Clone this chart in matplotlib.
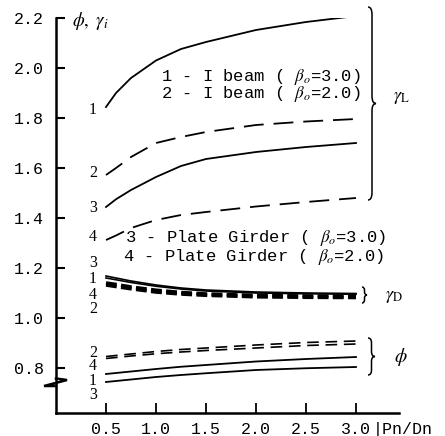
import matplotlib
matplotlib.use("Agg")
import matplotlib.pyplot as plt
from matplotlib.path import Path
from matplotlib.patches import PathPatch

plt.rcParams['mathtext.fontset'] = 'stix'

# ---- data ----
x = [0.5, 0.6, 0.75, 1.0, 1.25, 1.5, 2.0, 2.5, 3.0]

gL1 = [1.844, 1.900, 1.960, 2.030, 2.076, 2.104, 2.152, 2.184, 2.208]
gL2 = [1.572, 1.600, 1.644, 1.700, 1.724, 1.744, 1.772, 1.786, 1.796]
gL3 = [1.444, 1.475, 1.512, 1.564, 1.608, 1.636, 1.664, 1.684, 1.700]
gL4 = [1.312, 1.330, 1.360, 1.392, 1.412, 1.424, 1.446, 1.464, 1.480]

gD3 = [1.168, 1.160, 1.148, 1.132, 1.120, 1.112, 1.104, 1.100, 1.098]
gD1 = [1.160, 1.153, 1.142, 1.127, 1.116, 1.108, 1.100, 1.097, 1.095]
gD4 = [1.140, 1.134, 1.124, 1.111, 1.102, 1.096, 1.090, 1.088, 1.087]
gD2 = [1.132, 1.126, 1.117, 1.104, 1.096, 1.091, 1.085, 1.083, 1.082]

phi2 = [0.846, 0.850, 0.856, 0.866, 0.874, 0.880, 0.892, 0.902, 0.908]
phi4 = [0.838, 0.842, 0.848, 0.857, 0.864, 0.870, 0.880, 0.890, 0.896]
phi1 = [0.776, 0.780, 0.786, 0.796, 0.805, 0.812, 0.826, 0.836, 0.844]
phi3 = [0.744, 0.748, 0.754, 0.764, 0.772, 0.779, 0.792, 0.799, 0.804]

xticks = [0.5, 1.0, 1.5, 2.0, 2.5, 3.0]
xticklabels = ['0.5', '1.0', '1.5', '2.0', '2.5', '3.0']
yticks = [0.8, 1.0, 1.2, 1.4, 1.6, 1.8, 2.0, 2.2]
yticklabels = ['0.8', '1.0', '1.2', '1.4', '1.6', '1.8', '2.0', '2.2']

legend_lines = [r'1 - I beam ( $\beta_o$=3.0)', r'2 - I beam ( $\beta_o$=2.0)',
                r'3 - Plate Girder ( $\beta_o$=3.0)', r'4 - Plate Girder ( $\beta_o$=2.0)']

# curve labels at left: (text, y)
gL_labels = [('1', 1.832), ('2', 1.58), ('3', 1.44), ('4', 1.324)]
gD_labels = [('3', 1.22), ('1', 1.158), ('4', 1.094), ('2', 1.036)]
phi_labels = [('2', 0.862), ('4', 0.81), ('1', 0.748), ('3', 0.694)]

MONO = 'Liberation Mono'
SERIF = 'Liberation Serif'

fig = plt.figure(figsize=(4.45, 4.36), dpi=100)
ax = fig.add_axes([56/445, 23/436, (399-56)/445, (413-18)/436])
ax.set_xlim(0, 3.43)
ax.set_ylim(0.62, 2.2)

for s in ['top', 'right']:
    ax.spines[s].set_visible(False)
for s in ['left', 'bottom']:
    ax.spines[s].set_linewidth(1.8)

ax.set_xticks(xticks)
ax.set_xticklabels(xticklabels, fontfamily=MONO, fontsize=12)
ax.set_yticks(yticks)
ax.set_yticklabels(yticklabels, fontfamily=MONO, fontsize=12)
ax.tick_params(axis='y', direction='in', length=6.5, width=1.5, pad=8.5)
ax.tick_params(axis='x', direction='in', length=7, width=1.3, pad=6.5)

k = 'black'
lw = 1.3
# gamma L
ax.plot(x, gL1, color=k, lw=lw)
ax.plot(x, gL2, color=k, lw=lw, dashes=(11, 5.5))
ax.plot(x, gL3, color=k, lw=lw)
ax.plot(x, gL4, color=k, lw=lw, dashes=(11, 5.5))
# gamma D
ax.plot(x, gD3, color=k, lw=1.2)
ax.plot(x, gD1, color=k, lw=1.2)
ax.plot(x, gD4, color=k, lw=2.6, dashes=(3, 1.2))
ax.plot(x, gD2, color=k, lw=2.6, dashes=(3, 1.2))
# phi
ax.plot(x, phi2, color=k, lw=1.2, dashes=(7, 4))
ax.plot(x, phi4, color=k, lw=1.2, dashes=(7, 4))
ax.plot(x, phi1, color=k, lw=1.3)
ax.plot(x, phi3, color=k, lw=1.3)

# curve labels
for grp in (gL_labels, gD_labels, phi_labels):
    for t, yv in grp:
        ax.text(0.37, yv, t, fontfamily=SERIF, fontsize=11.5, ha='center', va='center')

# legend texts
ax.text(1.05, 1.964, legend_lines[0], fontfamily=MONO, fontsize=12.3, va='center')
ax.text(1.05, 1.896, legend_lines[1], fontfamily=MONO, fontsize=12.3, va='center')
ax.text(0.69, 1.320, legend_lines[2], fontfamily=MONO, fontsize=12.3, va='center')
ax.text(0.67, 1.246, legend_lines[3], fontfamily=MONO, fontsize=12.3, va='center')

# axis title
ax.text(0.16, 2.19, r'$\phi,\ \gamma_i$', fontsize=13.5, va='center', ha='left')
xt_label = ax.get_xticklabels()[-1]
ax.annotate('|Pn/Dn', xy=(1, 0), xycoords=xt_label, va='bottom', ha='left',
            fontfamily=MONO, fontsize=12, xytext=(1, 0), textcoords='offset points')

# braces
def brace(x0, y0, y1, w, r):
    ym = (y0 + y1) / 2
    xm = x0 + w / 2
    verts = [(x0, y1), (xm, y1), (xm, y1 - r),
             (xm, ym + r), (xm, ym), (x0 + w, ym),
             (xm, ym), (xm, ym - r),
             (xm, y0 + r), (xm, y0), (x0, y0)]
    codes = [Path.MOVETO, Path.CURVE3, Path.CURVE3,
             Path.LINETO, Path.CURVE3, Path.CURVE3,
             Path.CURVE3, Path.CURVE3,
             Path.LINETO, Path.CURVE3, Path.CURVE3]
    p = PathPatch(Path(verts, codes), fill=False, lw=1.1, color='black', clip_on=False)
    ax.add_patch(p)

brace(3.12, 1.472, 2.244, 0.08, 0.03)
brace(3.06, 1.06, 1.124, 0.05, 0.012)
brace(3.12, 0.772, 0.92, 0.07, 0.02)

ax.text(3.37, 1.884, r'$\gamma_{\mathrm{L}}$', fontsize=13, va='center', ha='left')
ax.text(3.29, 1.088, r'$\gamma_{\mathrm{D}}$', fontsize=13, va='center', ha='left')
ax.text(3.38, 0.846, r'$\phi$', fontsize=14, va='center', ha='left')

# axis break symbol
ax.plot([0, 0.11, -0.12, 0.0], [0.758, 0.752, 0.728, 0.728], color='black', lw=1.8,
        clip_on=False, solid_joinstyle='miter')

fig.savefig('out.png', dpi=100)
